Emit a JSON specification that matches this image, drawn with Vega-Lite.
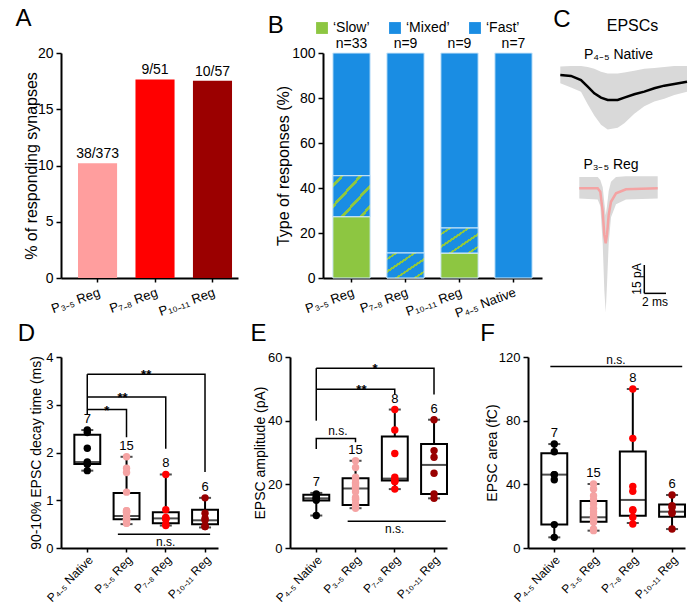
{
  "$schema": "https://vega.github.io/schema/vega-lite/v6.json",
  "background": "white",
  "padding": {"left": 15, "top": 7, "right": 2, "bottom": 0},
  "datasets": {
    "rate": [
      {"group": "P₃₋₅ Reg", "pct": 10.19, "label": "38/373"},
      {"group": "P₇₋₈ Reg", "pct": 17.65, "label": "9/51"},
      {"group": "P₁₀₋₁₁ Reg", "pct": 17.54, "label": "10/57"}
    ],
    "resp": [
      {"group": "P₃₋₅ Reg", "type": "‘Slow’", "pct": 27.27},
      {"group": "P₃₋₅ Reg", "type": "‘Mixed’", "pct": 18.18},
      {"group": "P₃₋₅ Reg", "type": "‘Fast’", "pct": 54.55},
      {"group": "P₇₋₈ Reg", "type": "‘Mixed’", "pct": 11.11},
      {"group": "P₇₋₈ Reg", "type": "‘Fast’", "pct": 88.89},
      {"group": "P₁₀₋₁₁ Reg", "type": "‘Slow’", "pct": 11.11},
      {"group": "P₁₀₋₁₁ Reg", "type": "‘Mixed’", "pct": 11.11},
      {"group": "P₁₀₋₁₁ Reg", "type": "‘Fast’", "pct": 77.78},
      {"group": "P₄₋₅ Native", "type": "‘Fast’", "pct": 100}
    ],
    "bn": [
      {"group": "P₃₋₅ Reg", "n": "n=33"},
      {"group": "P₇₋₈ Reg", "n": "n=9"},
      {"group": "P₁₀₋₁₁ Reg", "n": "n=9"},
      {"group": "P₄₋₅ Native", "n": "n=7"}
    ],
    "trace": [
      {"cell": "native", "t": 0.43, "mean": 100.2, "lo": 95.8, "hi": 104.7},
      {"cell": "native", "t": 1.5, "mean": 99.7, "lo": 93.5, "hi": 105},
      {"cell": "native", "t": 2.5, "mean": 97.5, "lo": 91.3, "hi": 105},
      {"cell": "native", "t": 3.17, "mean": 94, "lo": 84.5, "hi": 104.5},
      {"cell": "native", "t": 3.83, "mean": 90.4, "lo": 78.5, "hi": 103.5},
      {"cell": "native", "t": 4.5, "mean": 88.1, "lo": 73.5, "hi": 102},
      {"cell": "native", "t": 5.17, "mean": 86.8, "lo": 71, "hi": 101},
      {"cell": "native", "t": 6.17, "mean": 86.8, "lo": 72, "hi": 101},
      {"cell": "native", "t": 6.83, "mean": 88.1, "lo": 74.3, "hi": 101.5},
      {"cell": "native", "t": 7.83, "mean": 89.9, "lo": 79.5, "hi": 102.5},
      {"cell": "native", "t": 8.83, "mean": 91.3, "lo": 83.5, "hi": 103.5},
      {"cell": "native", "t": 9.83, "mean": 93.1, "lo": 86, "hi": 104},
      {"cell": "native", "t": 10.83, "mean": 94.5, "lo": 87.5, "hi": 104.5},
      {"cell": "native", "t": 11.83, "mean": 95.4, "lo": 89.5, "hi": 105},
      {"cell": "native", "t": 13.1, "mean": 96.6, "lo": 91.3, "hi": 105},
      {"cell": "reg", "t": 2.33, "mean": 39.5, "lo": 34, "hi": 45.5},
      {"cell": "reg", "t": 4.17, "mean": 39.5, "lo": 33.5, "hi": 45.5},
      {"cell": "reg", "t": 4.43, "mean": 37.7, "lo": 30, "hi": 44},
      {"cell": "reg", "t": 4.67, "mean": 27, "lo": 10, "hi": 40},
      {"cell": "reg", "t": 4.83, "mean": 14.5, "lo": -15, "hi": 32},
      {"cell": "reg", "t": 4.97, "mean": 10, "lo": -27, "hi": 25},
      {"cell": "reg", "t": 5.1, "mean": 14.5, "lo": -12, "hi": 30},
      {"cell": "reg", "t": 5.27, "mean": 25.2, "lo": 10, "hi": 38},
      {"cell": "reg", "t": 5.5, "mean": 32.3, "lo": 24, "hi": 43},
      {"cell": "reg", "t": 6.0, "mean": 36.8, "lo": 31, "hi": 45.5},
      {"cell": "reg", "t": 7.0, "mean": 39, "lo": 33.5, "hi": 46},
      {"cell": "reg", "t": 10.17, "mean": 39.5, "lo": 34, "hi": 46}
    ],
    "sbar": [
      {"t": 8.83, "v": -1.6, "t2": 8.83, "v2": -16.8},
      {"t": 8.83, "v": -16.8, "t2": 11.0, "v2": -16.8}
    ],
    "clab": [
      {"label": "EPSCs", "t": 7.65, "v": 126.5, "kind": "head"},
      {"label": "P₄₋₅ Native", "t": 6.25, "v": 110.9, "kind": "cell"},
      {"label": "P₃₋₅ Reg", "t": 5.5, "v": 52, "kind": "cell"},
      {"label": "2 ms", "t": 9.9, "v": -21.4, "kind": "scale"},
      {"label": "15 pA", "t": 8.1, "v": -9.1, "kind": "scalev"}
    ],
    "dbox": [
      {"group": "P₄₋₅ Native", "min": 1.62, "q1": 1.76, "med": 1.80, "q3": 2.37, "max": 2.47, "n": "7"},
      {"group": "P₃₋₅ Reg", "min": 0.50, "q1": 0.60, "med": 0.67, "q3": 1.15, "max": 1.91, "n": "15"},
      {"group": "P₇₋₈ Reg", "min": 0.47, "q1": 0.52, "med": 0.62, "q3": 0.75, "max": 1.54, "n": "8"},
      {"group": "P₁₀₋₁₁ Reg", "min": 0.43, "q1": 0.50, "med": 0.58, "q3": 0.80, "max": 1.05, "n": "6"}
    ],
    "dpts": [
      {"group": "P₄₋₅ Native", "v": 2.47}, {"group": "P₄₋₅ Native", "v": 2.42}, {"group": "P₄₋₅ Native", "v": 2.09},
      {"group": "P₄₋₅ Native", "v": 1.80}, {"group": "P₄₋₅ Native", "v": 1.76}, {"group": "P₄₋₅ Native", "v": 1.76},
      {"group": "P₄₋₅ Native", "v": 1.62},
      {"group": "P₃₋₅ Reg", "v": 1.91}, {"group": "P₃₋₅ Reg", "v": 1.67}, {"group": "P₃₋₅ Reg", "v": 1.58},
      {"group": "P₃₋₅ Reg", "v": 1.17}, {"group": "P₃₋₅ Reg", "v": 0.78}, {"group": "P₃₋₅ Reg", "v": 0.78},
      {"group": "P₃₋₅ Reg", "v": 0.75}, {"group": "P₃₋₅ Reg", "v": 0.75}, {"group": "P₃₋₅ Reg", "v": 0.68},
      {"group": "P₃₋₅ Reg", "v": 0.59}, {"group": "P₃₋₅ Reg", "v": 0.59}, {"group": "P₃₋₅ Reg", "v": 0.59},
      {"group": "P₃₋₅ Reg", "v": 0.59}, {"group": "P₃₋₅ Reg", "v": 0.52}, {"group": "P₃₋₅ Reg", "v": 0.52},
      {"group": "P₇₋₈ Reg", "v": 1.54}, {"group": "P₇₋₈ Reg", "v": 0.80}, {"group": "P₇₋₈ Reg", "v": 0.64},
      {"group": "P₇₋₈ Reg", "v": 0.62}, {"group": "P₇₋₈ Reg", "v": 0.61}, {"group": "P₇₋₈ Reg", "v": 0.60},
      {"group": "P₇₋₈ Reg", "v": 0.50}, {"group": "P₇₋₈ Reg", "v": 0.47},
      {"group": "P₁₀₋₁₁ Reg", "v": 1.05}, {"group": "P₁₀₋₁₁ Reg", "v": 0.73}, {"group": "P₁₀₋₁₁ Reg", "v": 0.62},
      {"group": "P₁₀₋₁₁ Reg", "v": 0.58}, {"group": "P₁₀₋₁₁ Reg", "v": 0.45}, {"group": "P₁₀₋₁₁ Reg", "v": 0.45}
    ],
    "dbrk": [
      {"b": "L", "k": 1, "xi": 0, "y": 3.64}, {"b": "L", "k": 2, "xi": 0, "y": 2.8},
      {"b": "a", "k": 1, "xi": 0, "y": 2.9}, {"b": "a", "k": 2, "xi": 1, "y": 2.9}, {"b": "a", "k": 3, "xi": 1, "y": 2.32},
      {"b": "b", "k": 1, "xi": 0, "y": 3.16}, {"b": "b", "k": 2, "xi": 2, "y": 3.16}, {"b": "b", "k": 3, "xi": 2, "y": 2.08},
      {"b": "c", "k": 1, "xi": 0, "y": 3.64}, {"b": "c", "k": 2, "xi": 3, "y": 3.64}, {"b": "c", "k": 3, "xi": 3, "y": 1.59},
      {"b": "n", "k": 1, "xi": 0.78, "y": 0.29}, {"b": "n", "k": 2, "xi": 3.13, "y": 0.29}
    ],
    "dtxt": [
      {"label": "*", "xi": 0.5, "y": 2.9, "pos": "star"},
      {"label": "**", "xi": 0.9, "y": 3.16, "pos": "star"},
      {"label": "**", "xi": 1.5, "y": 3.64, "pos": "star"},
      {"label": "n.s.", "xi": 2.0, "y": 0.29, "pos": "below"}
    ],
    "ebox": [
      {"group": "P₄₋₅ Native", "min": 10.2, "q1": 14.9, "med": 15.6, "q3": 16.7, "max": 17.3, "n": "7"},
      {"group": "P₃₋₅ Reg", "min": 12.5, "q1": 13.5, "med": 18.7, "q3": 21.9, "max": 27.4, "n": "15"},
      {"group": "P₇₋₈ Reg", "min": 18.5, "q1": 21.2, "med": 21.8, "q3": 35.0, "max": 43.5, "n": "8"},
      {"group": "P₁₀₋₁₁ Reg", "min": 15.6, "q1": 17.0, "med": 26.1, "q3": 32.7, "max": 40.3, "n": "6"}
    ],
    "epts": [
      {"group": "P₄₋₅ Native", "v": 17.0}, {"group": "P₄₋₅ Native", "v": 16.3}, {"group": "P₄₋₅ Native", "v": 15.9},
      {"group": "P₄₋₅ Native", "v": 15.6}, {"group": "P₄₋₅ Native", "v": 15.5}, {"group": "P₄₋₅ Native", "v": 15.0},
      {"group": "P₄₋₅ Native", "v": 10.2},
      {"group": "P₃₋₅ Reg", "v": 27.4}, {"group": "P₃₋₅ Reg", "v": 25.3}, {"group": "P₃₋₅ Reg", "v": 22.2},
      {"group": "P₃₋₅ Reg", "v": 21.7}, {"group": "P₃₋₅ Reg", "v": 20.6}, {"group": "P₃₋₅ Reg", "v": 20.1},
      {"group": "P₃₋₅ Reg", "v": 19.4}, {"group": "P₃₋₅ Reg", "v": 18.7}, {"group": "P₃₋₅ Reg", "v": 17.7},
      {"group": "P₃₋₅ Reg", "v": 15.9}, {"group": "P₃₋₅ Reg", "v": 15.4}, {"group": "P₃₋₅ Reg", "v": 15.2},
      {"group": "P₃₋₅ Reg", "v": 13.8}, {"group": "P₃₋₅ Reg", "v": 13.3}, {"group": "P₃₋₅ Reg", "v": 12.5},
      {"group": "P₇₋₈ Reg", "v": 43.5}, {"group": "P₇₋₈ Reg", "v": 37.1}, {"group": "P₇₋₈ Reg", "v": 29.7},
      {"group": "P₇₋₈ Reg", "v": 22.2}, {"group": "P₇₋₈ Reg", "v": 21.5}, {"group": "P₇₋₈ Reg", "v": 20.9},
      {"group": "P₇₋₈ Reg", "v": 20.9}, {"group": "P₇₋₈ Reg", "v": 18.5},
      {"group": "P₁₀₋₁₁ Reg", "v": 40.3}, {"group": "P₁₀₋₁₁ Reg", "v": 30.6}, {"group": "P₁₀₋₁₁ Reg", "v": 28.5},
      {"group": "P₁₀₋₁₁ Reg", "v": 23.5}, {"group": "P₁₀₋₁₁ Reg", "v": 17.0}, {"group": "P₁₀₋₁₁ Reg", "v": 15.6}
    ],
    "ebrk": [
      {"b": "L", "k": 1, "xi": 0, "y": 56.5}, {"b": "L", "k": 2, "xi": 0, "y": 40.0},
      {"b": "a", "k": 1, "xi": 0, "y": 56.5}, {"b": "a", "k": 2, "xi": 3, "y": 56.5}, {"b": "a", "k": 3, "xi": 3, "y": 48.2},
      {"b": "b", "k": 1, "xi": 0, "y": 49.9}, {"b": "b", "k": 2, "xi": 2, "y": 49.9}, {"b": "b", "k": 3, "xi": 2, "y": 48.2},
      {"b": "c", "k": 1, "xi": 0, "y": 31.1}, {"b": "c", "k": 2, "xi": 0, "y": 34.4}, {"b": "c", "k": 3, "xi": 1, "y": 34.4}, {"b": "c", "k": 4, "xi": 1, "y": 33.2},
      {"b": "n", "k": 1, "xi": 0.8, "y": 8.4}, {"b": "n", "k": 2, "xi": 3.3, "y": 8.4}
    ],
    "etxt": [
      {"label": "*", "xi": 1.5, "y": 56.5, "pos": "star"},
      {"label": "**", "xi": 1.15, "y": 49.9, "pos": "star"},
      {"label": "n.s.", "xi": 0.55, "y": 34.4, "pos": "above"},
      {"label": "n.s.", "xi": 2.0, "y": 8.4, "pos": "below"}
    ],
    "fbox": [
      {"group": "P₄₋₅ Native", "min": 6.7, "q1": 14.7, "med": 46.1, "q3": 59.5, "max": 65.3, "n": "7"},
      {"group": "P₃₋₅ Reg", "min": 10.9, "q1": 16.5, "med": 19.3, "q3": 29.5, "max": 40.2, "n": "15"},
      {"group": "P₇₋₈ Reg", "min": 15.7, "q1": 20.3, "med": 30.2, "q3": 60.7, "max": 99.9, "n": "8"},
      {"group": "P₁₀₋₁₁ Reg", "min": 11.9, "q1": 19.7, "med": 22.8, "q3": 27.4, "max": 33.3, "n": "6"}
    ],
    "fpts": [
      {"group": "P₄₋₅ Native", "v": 65.3}, {"group": "P₄₋₅ Native", "v": 60.5}, {"group": "P₄₋₅ Native", "v": 46.1},
      {"group": "P₄₋₅ Native", "v": 46.1}, {"group": "P₄₋₅ Native", "v": 42.9}, {"group": "P₄₋₅ Native", "v": 14.7},
      {"group": "P₄₋₅ Native", "v": 6.7},
      {"group": "P₃₋₅ Reg", "v": 40.2}, {"group": "P₃₋₅ Reg", "v": 37.1}, {"group": "P₃₋₅ Reg", "v": 32.9},
      {"group": "P₃₋₅ Reg", "v": 30.4}, {"group": "P₃₋₅ Reg", "v": 27.6}, {"group": "P₃₋₅ Reg", "v": 24.9},
      {"group": "P₃₋₅ Reg", "v": 22.8}, {"group": "P₃₋₅ Reg", "v": 20.9}, {"group": "P₃₋₅ Reg", "v": 19.3},
      {"group": "P₃₋₅ Reg", "v": 19.0}, {"group": "P₃₋₅ Reg", "v": 18.2}, {"group": "P₃₋₅ Reg", "v": 17.2},
      {"group": "P₃₋₅ Reg", "v": 16.1}, {"group": "P₃₋₅ Reg", "v": 11.9}, {"group": "P₃₋₅ Reg", "v": 10.9},
      {"group": "P₇₋₈ Reg", "v": 99.9}, {"group": "P₇₋₈ Reg", "v": 68.9}, {"group": "P₇₋₈ Reg", "v": 38.7},
      {"group": "P₇₋₈ Reg", "v": 35.6}, {"group": "P₇₋₈ Reg", "v": 24.1}, {"group": "P₇₋₈ Reg", "v": 23.5},
      {"group": "P₇₋₈ Reg", "v": 19.3}, {"group": "P₇₋₈ Reg", "v": 15.1},
      {"group": "P₁₀₋₁₁ Reg", "v": 33.3}, {"group": "P₁₀₋₁₁ Reg", "v": 26.6}, {"group": "P₁₀₋₁₁ Reg", "v": 25.5},
      {"group": "P₁₀₋₁₁ Reg", "v": 22.4}, {"group": "P₁₀₋₁₁ Reg", "v": 21.8}, {"group": "P₁₀₋₁₁ Reg", "v": 11.9}
    ],
    "fbrk": [
      {"b": "n", "k": 1, "xi": -0.1, "y": 114}, {"b": "n", "k": 2, "xi": 3.26, "y": 114}
    ],
    "ftxt": [
      {"label": "n.s.", "xi": 1.57, "y": 114, "pos": "above"}
    ]
  },
  "vconcat": [
    {
      "spacing": 11,
      "resolve": {"scale": {"color": "independent"}},
      "hconcat": [
        {
          "width": 177, "height": 225,
          "title": {"text": "A", "dx": -8, "offset": 15},
          "data": {"name": "rate"},
          "layer": [
            {
              "mark": {"type": "bar"},
              "encoding": {
                "x": {"field": "group", "type": "nominal", "sort": null,
                      "scale": {"paddingInner": 0.32, "paddingOuter": 0.2, "align": 0.74},
                      "axis": {"title": null}},
                "y": {"field": "pct", "type": "quantitative",
                      "scale": {"domain": [0, 20], "nice": false},
                      "axis": {"title": "% of responding synapses", "values": [0, 5, 10, 15, 20], "titlePadding": -2, "labelFontSize": 14}},
                "color": {"field": "group", "type": "nominal",
                          "scale": {"domain": ["P₃₋₅ Reg", "P₇₋₈ Reg", "P₁₀₋₁₁ Reg"], "range": ["#FF9E9E", "#FF0000", "#9B0000"]},
                          "legend": null}
              }
            },
            {
              "mark": {"type": "text", "fontSize": 14, "baseline": "bottom", "dy": -2},
              "encoding": {
                "x": {"field": "group", "type": "nominal", "sort": null},
                "y": {"field": "pct", "type": "quantitative",
                      "axis": {"orient": "right", "labels": false, "ticks": false, "domain": false, "grid": false, "title": null, "minExtent": 18, "maxExtent": 18, "titlePadding": 0}},
                "text": {"field": "label"}
              }
            }
          ],
          "resolve": {"axis": {"y": "independent"}}
        },
        {
          "width": 219, "height": 225,
          "title": {"text": "B", "dx": -8, "offset": 15, "dy": 32},
          "layer": [
            {
              "data": {"name": "resp"},
              "transform": [{"stack": "pct", "groupby": ["group"], "sort": [{"field": "type", "order": "descending"}], "as": ["y0", "y1"]}],
              "layer": [
                {
                  "mark": {"type": "bar", "stroke": "#cfe8fa", "strokeWidth": 1},
                  "encoding": {
                    "x": {"field": "group", "type": "nominal",
                          "scale": {"domain": ["P₃₋₅ Reg", "P₇₋₈ Reg", "P₁₀₋₁₁ Reg", "P₄₋₅ Native"], "paddingInner": 0.31, "paddingOuter": 0.183},
                          "axis": {"title": null}},
                    "y": {"field": "y0", "type": "quantitative",
                          "scale": {"domain": [0, 100], "nice": false},
                          "axis": {"title": "Type of responses (%)", "values": [0, 20, 40, 60, 80, 100], "titlePadding": 0, "labelFontSize": 14}},
                    "y2": {"field": "y1"},
                    "color": {"field": "type", "type": "nominal",
                              "scale": {"domain": ["‘Slow’", "‘Mixed’", "‘Fast’"], "range": ["#8DC641", "#1A8DE3", "#1A8DE3"]},
                              "legend": {
                                "orient": "none", "legendX": -8, "legendY": -32, "direction": "horizontal", "title": null,
                                "symbolType": "square", "symbolSize": 140, "symbolStrokeWidth": 0,
                                "labelFontSize": 14, "labelColor": "black", "columnPadding": 18, "labelOffset": 4, "padding": 0,
                                "encode": {"symbols": {"update": {"fill": [
                                  {"test": "datum.value === '‘Mixed’'", "value": {"gradient": "linear", "x1": 0, "y1": 0, "x2": 1, "y2": 1, "stops": [
                                    {"offset": 0, "color": "#1A8DE3"}, {"offset": 0.45, "color": "#1A8DE3"}, {"offset": 0.45, "color": "#8DC641"}, {"offset": 0.58, "color": "#8DC641"},
                                    {"offset": 0.58, "color": "#1A8DE3"}, {"offset": 1, "color": "#1A8DE3"}]}},
                                  {"test": "datum.value === '‘Slow’'", "value": "#8DC641"},
                                  {"value": "#1A8DE3"}
                                ]}}}
                              }}
                  }
                },
                {
                  "transform": [{"filter": "datum.type === '‘Mixed’'"}],
                  "mark": {"type": "bar", "stroke": "#cfe8fa", "strokeWidth": 1,
                           "fill": {"gradient": "linear", "x1": 0, "y1": 0, "x2": 1, "y2": 1, "stops": [
                             {"offset": 0, "color": "#1A8DE3"}, {"offset": 0.1, "color": "#1A8DE3"}, {"offset": 0.1, "color": "#8DC641"}, {"offset": 0.15, "color": "#8DC641"},
                             {"offset": 0.15, "color": "#1A8DE3"}, {"offset": 0.35, "color": "#1A8DE3"}, {"offset": 0.35, "color": "#8DC641"}, {"offset": 0.4, "color": "#8DC641"},
                             {"offset": 0.4, "color": "#1A8DE3"}, {"offset": 0.6, "color": "#1A8DE3"}, {"offset": 0.6, "color": "#8DC641"}, {"offset": 0.65, "color": "#8DC641"},
                             {"offset": 0.65, "color": "#1A8DE3"}, {"offset": 0.85, "color": "#1A8DE3"}, {"offset": 0.85, "color": "#8DC641"}, {"offset": 0.9, "color": "#8DC641"},
                             {"offset": 0.9, "color": "#1A8DE3"}, {"offset": 1, "color": "#1A8DE3"}]}},
                  "encoding": {
                    "x": {"field": "group", "type": "nominal"},
                    "y": {"field": "y0", "type": "quantitative"},
                    "y2": {"field": "y1"}
                  }
                }
              ]
            },
            {
              "data": {"name": "bn"},
              "mark": {"type": "text", "fontSize": 14, "baseline": "bottom", "dy": -2},
              "encoding": {
                "x": {"field": "group", "type": "nominal"},
                "y": {"datum": 100, "type": "quantitative"},
                "text": {"field": "n"}
              }
            }
          ]
        },
        {
          "width": 135, "height": 265,
          "title": {"text": "C", "dx": -2, "dy": 22},
          "layer": [
            {
              "data": {"name": "trace"},
              "mark": {"type": "area", "color": "#d9d9d9"},
              "encoding": {
                "x": {"field": "t", "type": "quantitative", "scale": {"domain": [0, 13.5], "nice": false, "zero": false}, "axis": null},
                "y": {"field": "lo", "type": "quantitative", "scale": {"domain": [-30, 112], "nice": false, "zero": false}, "axis": null},
                "y2": {"field": "hi"},
                "detail": {"field": "cell"}
              }
            },
            {
              "data": {"name": "trace"},
              "mark": {"type": "line", "strokeWidth": 2.5},
              "encoding": {
                "x": {"field": "t", "type": "quantitative"},
                "y": {"field": "mean", "type": "quantitative"},
                "color": {"field": "cell", "type": "nominal", "scale": {"domain": ["native", "reg"], "range": ["#000000", "#F4A3A3"]}, "legend": null}
              }
            },
            {
              "data": {"name": "sbar"},
              "mark": {"type": "rule", "color": "black", "strokeWidth": 1.5},
              "encoding": {
                "x": {"field": "t", "type": "quantitative"},
                "x2": {"field": "t2"},
                "y": {"field": "v", "type": "quantitative"},
                "y2": {"field": "v2"}
              }
            },
            {
              "data": {"name": "clab"},
              "transform": [{"filter": "datum.kind === 'head'"}],
              "mark": {"type": "text", "fontSize": 16, "baseline": "middle"},
              "encoding": {"x": {"field": "t", "type": "quantitative"}, "y": {"field": "v", "type": "quantitative"}, "text": {"field": "label"}}
            },
            {
              "data": {"name": "clab"},
              "transform": [{"filter": "datum.kind === 'cell'"}],
              "mark": {"type": "text", "fontSize": 14, "baseline": "middle"},
              "encoding": {"x": {"field": "t", "type": "quantitative"}, "y": {"field": "v", "type": "quantitative"}, "text": {"field": "label"}}
            },
            {
              "data": {"name": "clab"},
              "transform": [{"filter": "datum.kind === 'scale'"}],
              "mark": {"type": "text", "fontSize": 12, "baseline": "middle"},
              "encoding": {"x": {"field": "t", "type": "quantitative"}, "y": {"field": "v", "type": "quantitative"}, "text": {"field": "label"}}
            },
            {
              "data": {"name": "clab"},
              "transform": [{"filter": "datum.kind === 'scalev'"}],
              "mark": {"type": "text", "fontSize": 12, "baseline": "middle", "angle": 270},
              "encoding": {"x": {"field": "t", "type": "quantitative"}, "y": {"field": "v", "type": "quantitative"}, "text": {"field": "label"}}
            }
          ]
        }
      ]
    },
    {
      "spacing": 31,
      "resolve": {"scale": {"color": "independent"}},
      "hconcat": [
        {
          "width": 157, "height": 191,
          "title": {"text": "D", "dx": -12, "offset": 5},
          "layer": [
            {
              "layer": [
                {"data": {"name": "dbox"}, "mark": {"type": "rule", "color": "black", "strokeWidth": 2},
                 "encoding": {
                   "x": {"field": "group", "type": "nominal", "scale": {"domain": ["P₄₋₅ Native", "P₃₋₅ Reg", "P₇₋₈ Reg", "P₁₀₋₁₁ Reg"], "paddingInner": 0.34, "paddingOuter": 0.17, "align": 1}, "axis": {"title": null, "labelAngle": -45, "labelFontSize": 12, "labelPadding": 2}},
                   "y": {"field": "min", "type": "quantitative", "scale": {"domain": [0, 4], "nice": false}, "axis": {"title": "90-10% EPSC decay time (ms)", "values": [0, 1, 2, 3, 4], "titleFontSize": 14, "titlePadding": 2}},
                   "y2": {"field": "max"}}},
                {"data": {"name": "dbox"}, "mark": {"type": "bar", "fill": "white", "stroke": "black", "strokeWidth": 2},
                 "encoding": {"x": {"field": "group", "type": "nominal"}, "y": {"field": "q1", "type": "quantitative"}, "y2": {"field": "q3"}}},
                {"data": {"name": "dbox"}, "mark": {"type": "tick", "color": "black", "thickness": 2, "size": 26},
                 "encoding": {"x": {"field": "group", "type": "nominal"}, "y": {"field": "med", "type": "quantitative"}}},
                {"data": {"name": "dbox"}, "mark": {"type": "tick", "color": "black", "thickness": 2, "size": 12},
                 "encoding": {"x": {"field": "group", "type": "nominal"}, "y": {"field": "max", "type": "quantitative"}}},
                {"data": {"name": "dbox"}, "mark": {"type": "tick", "color": "black", "thickness": 2, "size": 12},
                 "encoding": {"x": {"field": "group", "type": "nominal"}, "y": {"field": "min", "type": "quantitative"}}},
                {"data": {"name": "dpts"}, "mark": {"type": "circle", "size": 55, "opacity": 1},
                 "encoding": {"x": {"field": "group", "type": "nominal"}, "y": {"field": "v", "type": "quantitative"},
                   "color": {"field": "group", "type": "nominal", "scale": {"domain": ["P₄₋₅ Native", "P₃₋₅ Reg", "P₇₋₈ Reg", "P₁₀₋₁₁ Reg"], "range": ["#000000", "#F5A3A3", "#FF0000", "#990000"]}, "legend": null}}},
                {"data": {"name": "dbox"}, "mark": {"type": "text", "fontSize": 13, "baseline": "middle", "dy": -11},
                 "encoding": {"x": {"field": "group", "type": "nominal"}, "y": {"field": "max", "type": "quantitative"}, "text": {"field": "n"}}}
              ]
            },
            {
              "layer": [
                {"data": {"name": "dbrk"}, "mark": {"type": "line", "color": "black", "strokeWidth": 1.5},
                 "encoding": {"x": {"field": "xi", "type": "quantitative", "scale": {"domain": [-0.669, 3.331], "nice": false, "zero": false}, "axis": null},
                   "y": {"field": "y", "type": "quantitative"}, "detail": {"field": "b"}, "order": {"field": "k"}}},
                {"data": {"name": "dtxt"}, "transform": [{"filter": "datum.pos === 'star'"}], "mark": {"type": "text", "fontSize": 13, "fontWeight": "bold", "baseline": "alphabetic", "dy": 5},
                 "encoding": {"x": {"field": "xi", "type": "quantitative"}, "y": {"field": "y", "type": "quantitative"}, "text": {"field": "label"}}},
                {"data": {"name": "dtxt"}, "transform": [{"filter": "datum.pos === 'below'"}], "mark": {"type": "text", "fontSize": 12, "baseline": "top", "dy": 3},
                 "encoding": {"x": {"field": "xi", "type": "quantitative"}, "y": {"field": "y", "type": "quantitative"}, "text": {"field": "label"}}}
              ]
            }
          ],
          "resolve": {"scale": {"x": "independent"}}
        },
        {
          "width": 157, "height": 191,
          "title": {"text": "E", "dx": -3, "offset": 5},
          "layer": [
            {
              "layer": [
                {"data": {"name": "ebox"}, "mark": {"type": "rule", "color": "black", "strokeWidth": 2},
                 "encoding": {
                   "x": {"field": "group", "type": "nominal", "scale": {"domain": ["P₄₋₅ Native", "P₃₋₅ Reg", "P₇₋₈ Reg", "P₁₀₋₁₁ Reg"], "paddingInner": 0.34, "paddingOuter": 0.17, "align": 1}, "axis": {"title": null, "labelAngle": -45, "labelFontSize": 12, "labelPadding": 2}},
                   "y": {"field": "min", "type": "quantitative", "scale": {"domain": [0, 60], "nice": false}, "axis": {"title": "EPSC amplitude (pA)", "values": [0, 20, 40, 60], "titleFontSize": 14, "titlePadding": 0}},
                   "y2": {"field": "max"}}},
                {"data": {"name": "ebox"}, "mark": {"type": "bar", "fill": "white", "stroke": "black", "strokeWidth": 2},
                 "encoding": {"x": {"field": "group", "type": "nominal"}, "y": {"field": "q1", "type": "quantitative"}, "y2": {"field": "q3"}}},
                {"data": {"name": "ebox"}, "mark": {"type": "tick", "color": "black", "thickness": 2, "size": 26},
                 "encoding": {"x": {"field": "group", "type": "nominal"}, "y": {"field": "med", "type": "quantitative"}}},
                {"data": {"name": "ebox"}, "mark": {"type": "tick", "color": "black", "thickness": 2, "size": 12},
                 "encoding": {"x": {"field": "group", "type": "nominal"}, "y": {"field": "max", "type": "quantitative"}}},
                {"data": {"name": "ebox"}, "mark": {"type": "tick", "color": "black", "thickness": 2, "size": 12},
                 "encoding": {"x": {"field": "group", "type": "nominal"}, "y": {"field": "min", "type": "quantitative"}}},
                {"data": {"name": "epts"}, "mark": {"type": "circle", "size": 55, "opacity": 1},
                 "encoding": {"x": {"field": "group", "type": "nominal"}, "y": {"field": "v", "type": "quantitative"},
                   "color": {"field": "group", "type": "nominal", "scale": {"domain": ["P₄₋₅ Native", "P₃₋₅ Reg", "P₇₋₈ Reg", "P₁₀₋₁₁ Reg"], "range": ["#000000", "#F5A3A3", "#FF0000", "#990000"]}, "legend": null}}},
                {"data": {"name": "ebox"}, "mark": {"type": "text", "fontSize": 13, "baseline": "middle", "dy": -11},
                 "encoding": {"x": {"field": "group", "type": "nominal"}, "y": {"field": "max", "type": "quantitative"}, "text": {"field": "n"}}}
              ]
            },
            {
              "layer": [
                {"data": {"name": "ebrk"}, "mark": {"type": "line", "color": "black", "strokeWidth": 1.5},
                 "encoding": {"x": {"field": "xi", "type": "quantitative", "scale": {"domain": [-0.669, 3.331], "nice": false, "zero": false}, "axis": null},
                   "y": {"field": "y", "type": "quantitative"}, "detail": {"field": "b"}, "order": {"field": "k"}}},
                {"data": {"name": "etxt"}, "transform": [{"filter": "datum.pos === 'star'"}], "mark": {"type": "text", "fontSize": 13, "fontWeight": "bold", "baseline": "alphabetic", "dy": 5},
                 "encoding": {"x": {"field": "xi", "type": "quantitative"}, "y": {"field": "y", "type": "quantitative"}, "text": {"field": "label"}}},
                {"data": {"name": "etxt"}, "transform": [{"filter": "datum.pos === 'above'"}], "mark": {"type": "text", "fontSize": 12, "baseline": "alphabetic", "dy": -3},
                 "encoding": {"x": {"field": "xi", "type": "quantitative"}, "y": {"field": "y", "type": "quantitative"}, "text": {"field": "label"}}},
                {"data": {"name": "etxt"}, "transform": [{"filter": "datum.pos === 'below'"}], "mark": {"type": "text", "fontSize": 12, "baseline": "top", "dy": 3},
                 "encoding": {"x": {"field": "xi", "type": "quantitative"}, "y": {"field": "y", "type": "quantitative"}, "text": {"field": "label"}}}
              ]
            }
          ],
          "resolve": {"scale": {"x": "independent"}}
        },
        {
          "width": 157, "height": 191,
          "title": {"text": "F", "dx": -5, "offset": 5},
          "layer": [
            {
              "layer": [
                {"data": {"name": "fbox"}, "mark": {"type": "rule", "color": "black", "strokeWidth": 2},
                 "encoding": {
                   "x": {"field": "group", "type": "nominal", "scale": {"domain": ["P₄₋₅ Native", "P₃₋₅ Reg", "P₇₋₈ Reg", "P₁₀₋₁₁ Reg"], "paddingInner": 0.34, "paddingOuter": 0.17, "align": 1}, "axis": {"title": null, "labelAngle": -45, "labelFontSize": 12, "labelPadding": 2}},
                   "y": {"field": "min", "type": "quantitative", "scale": {"domain": [0, 120], "nice": false}, "axis": {"title": "EPSC area (fC)", "values": [0, 40, 80, 120], "titleFontSize": 14, "titlePadding": -1}},
                   "y2": {"field": "max"}}},
                {"data": {"name": "fbox"}, "mark": {"type": "bar", "fill": "white", "stroke": "black", "strokeWidth": 2},
                 "encoding": {"x": {"field": "group", "type": "nominal"}, "y": {"field": "q1", "type": "quantitative"}, "y2": {"field": "q3"}}},
                {"data": {"name": "fbox"}, "mark": {"type": "tick", "color": "black", "thickness": 2, "size": 26},
                 "encoding": {"x": {"field": "group", "type": "nominal"}, "y": {"field": "med", "type": "quantitative"}}},
                {"data": {"name": "fbox"}, "mark": {"type": "tick", "color": "black", "thickness": 2, "size": 12},
                 "encoding": {"x": {"field": "group", "type": "nominal"}, "y": {"field": "max", "type": "quantitative"}}},
                {"data": {"name": "fbox"}, "mark": {"type": "tick", "color": "black", "thickness": 2, "size": 12},
                 "encoding": {"x": {"field": "group", "type": "nominal"}, "y": {"field": "min", "type": "quantitative"}}},
                {"data": {"name": "fpts"}, "mark": {"type": "circle", "size": 55, "opacity": 1},
                 "encoding": {"x": {"field": "group", "type": "nominal"}, "y": {"field": "v", "type": "quantitative"},
                   "color": {"field": "group", "type": "nominal", "scale": {"domain": ["P₄₋₅ Native", "P₃₋₅ Reg", "P₇₋₈ Reg", "P₁₀₋₁₁ Reg"], "range": ["#000000", "#F5A3A3", "#FF0000", "#990000"]}, "legend": null}}},
                {"data": {"name": "fbox"}, "mark": {"type": "text", "fontSize": 13, "baseline": "middle", "dy": -11},
                 "encoding": {"x": {"field": "group", "type": "nominal"}, "y": {"field": "max", "type": "quantitative"}, "text": {"field": "n"}}}
              ]
            },
            {
              "layer": [
                {"data": {"name": "fbrk"}, "mark": {"type": "line", "color": "black", "strokeWidth": 1.5},
                 "encoding": {"x": {"field": "xi", "type": "quantitative", "scale": {"domain": [-0.669, 3.331], "nice": false, "zero": false}, "axis": null},
                   "y": {"field": "y", "type": "quantitative"}, "detail": {"field": "b"}, "order": {"field": "k"}}},
                {"data": {"name": "ftxt"}, "mark": {"type": "text", "fontSize": 12, "baseline": "alphabetic", "dy": -3},
                 "encoding": {"x": {"field": "xi", "type": "quantitative"}, "y": {"field": "y", "type": "quantitative"}, "text": {"field": "label"}}}
              ]
            }
          ],
          "resolve": {"scale": {"x": "independent"}}
        }
      ]
    }
  ],
  "spacing": 2,
  "resolve": {"scale": {"color": "independent"}},
  "config": {
    "font": "Liberation Sans",
    "view": {"stroke": null},
    "title": {"fontSize": 24, "fontWeight": "normal", "anchor": "start", "frame": "bounds", "color": "black", "offset": 8},
    "axis": {"domainColor": "black", "domainWidth": 2, "tickColor": "black", "tickWidth": 1.5, "tickSize": 5,
             "labelColor": "black", "titleColor": "black", "labelFontSize": 13, "titleFontSize": 16,
             "titleFontWeight": "normal", "grid": false, "minExtent": 0, "labelPadding": 3},
    "axisX": {"labelAngle": -20, "labelAlign": "right", "labelBaseline": "top", "tickSize": 4, "labelPadding": 4},
    "text": {"color": "black"}
  }
}
